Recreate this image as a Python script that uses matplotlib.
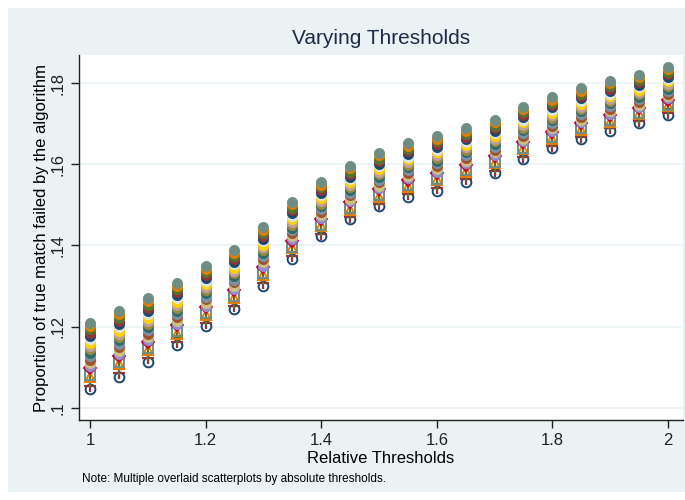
import matplotlib
matplotlib.use("Agg")
import matplotlib.pyplot as plt
from matplotlib.patches import Rectangle

plt.rcParams['font.family'] = ['Liberation Sans', 'DejaVu Sans']

# Relative thresholds (x axis)
rel_thresh = [1.00, 1.05, 1.10, 1.15, 1.20, 1.25, 1.30, 1.35, 1.40, 1.45, 1.50,
              1.55, 1.60, 1.65, 1.70, 1.75, 1.80, 1.85, 1.90, 1.95, 2.00]

# Proportion of true matches failed (x 1e-4), one list per absolute threshold,
# from the lowest series to the highest
abs01 = [1046, 1077, 1114, 1155, 1201, 1244, 1301, 1367, 1422, 1464, 1496, 1520, 1535, 1557, 1578, 1613, 1639, 1661, 1682, 1701, 1721]
abs02 = [1054, 1085, 1122, 1162, 1208, 1251, 1308, 1374, 1429, 1470, 1502, 1526, 1542, 1563, 1584, 1619, 1645, 1667, 1688, 1707, 1727]
abs03 = [1065, 1096, 1132, 1173, 1218, 1261, 1318, 1383, 1438, 1479, 1511, 1535, 1551, 1572, 1593, 1628, 1654, 1676, 1696, 1715, 1735]
abs04 = [1076, 1107, 1143, 1183, 1228, 1271, 1328, 1393, 1447, 1488, 1520, 1544, 1560, 1581, 1602, 1637, 1662, 1684, 1705, 1723, 1743]
abs05 = [1081, 1112, 1147, 1188, 1233, 1275, 1332, 1397, 1451, 1492, 1524, 1548, 1564, 1585, 1606, 1640, 1666, 1688, 1708, 1726, 1746]
abs06 = [1098, 1128, 1163, 1204, 1248, 1290, 1347, 1412, 1465, 1506, 1538, 1562, 1578, 1599, 1620, 1654, 1679, 1701, 1721, 1739, 1759]
abs07 = [1102, 1132, 1167, 1207, 1251, 1293, 1350, 1415, 1468, 1509, 1541, 1565, 1581, 1602, 1623, 1657, 1682, 1704, 1724, 1742, 1762]
abs08 = [1110, 1140, 1175, 1215, 1259, 1301, 1358, 1422, 1475, 1515, 1547, 1571, 1588, 1608, 1629, 1663, 1688, 1710, 1730, 1747, 1767]
abs09 = [1119, 1149, 1183, 1223, 1267, 1309, 1366, 1430, 1482, 1523, 1555, 1579, 1595, 1615, 1636, 1670, 1695, 1717, 1737, 1754, 1774]
abs10 = [1127, 1157, 1191, 1231, 1274, 1316, 1373, 1437, 1489, 1529, 1561, 1585, 1602, 1622, 1643, 1677, 1701, 1723, 1743, 1760, 1780]
abs11 = [1136, 1166, 1200, 1239, 1282, 1324, 1381, 1444, 1496, 1536, 1568, 1592, 1609, 1629, 1650, 1684, 1708, 1730, 1750, 1766, 1786]
abs12 = [1144, 1174, 1207, 1246, 1290, 1331, 1388, 1451, 1503, 1543, 1575, 1599, 1616, 1635, 1656, 1690, 1714, 1736, 1756, 1772, 1792]
abs13 = [1152, 1182, 1215, 1254, 1297, 1338, 1395, 1458, 1509, 1549, 1581, 1605, 1622, 1642, 1663, 1696, 1720, 1742, 1761, 1778, 1798]
abs14 = [1160, 1190, 1222, 1261, 1304, 1345, 1402, 1465, 1516, 1556, 1588, 1612, 1629, 1648, 1669, 1703, 1727, 1749, 1767, 1784, 1804]
abs15 = [1169, 1199, 1231, 1270, 1312, 1353, 1410, 1473, 1523, 1563, 1595, 1619, 1636, 1655, 1676, 1710, 1734, 1756, 1774, 1790, 1810]
abs16 = [1177, 1206, 1239, 1277, 1319, 1360, 1417, 1480, 1530, 1569, 1601, 1625, 1643, 1662, 1683, 1716, 1740, 1762, 1780, 1796, 1816]
abs17 = [1185, 1214, 1246, 1285, 1327, 1367, 1424, 1487, 1536, 1576, 1608, 1632, 1649, 1668, 1689, 1722, 1746, 1768, 1786, 1802, 1822]
abs18 = [1193, 1222, 1254, 1292, 1334, 1374, 1431, 1493, 1543, 1582, 1614, 1638, 1656, 1674, 1695, 1729, 1752, 1774, 1792, 1808, 1828]
abs19 = [1202, 1231, 1262, 1301, 1342, 1382, 1439, 1501, 1550, 1590, 1622, 1646, 1663, 1682, 1703, 1736, 1759, 1781, 1799, 1814, 1834]
abs20 = [1210, 1239, 1270, 1308, 1349, 1389, 1446, 1508, 1557, 1596, 1628, 1652, 1670, 1688, 1709, 1742, 1765, 1787, 1805, 1820, 1840]

series = [abs01, abs02, abs03, abs04, abs05, abs06, abs07, abs08, abs09, abs10,
          abs11, abs12, abs13, abs14, abs15, abs16, abs17, abs18, abs19, abs20]

# Stata s2color palette
palette = ['#1a476f', '#90353b', '#55752f', '#e37e00', '#6e8e84', '#c10534',
           '#938dd2', '#cac27e', '#a0522d', '#7b92a8', '#2d6d66', '#9c8847',
           '#bfa19c', '#ffd200', '#d9e6eb']
symbols = ['o', '+', '+', '^', 's', 'D']   # first six series, hollow / line markers

fig = plt.figure(figsize=(6.85, 5), dpi=100)
fig.patches.append(Rectangle((8 / 685, 8 / 500), 1 - 8 / 685, 484 / 500,
                             transform=fig.transFigure, facecolor='#eaf2f3',
                             edgecolor='none', zorder=-10))
ax = fig.add_axes([79 / 685, 80 / 500, 604 / 685, 365 / 500])
ax.set_facecolor('white')

for i, s in enumerate(series):
    col = palette[i % len(palette)]
    y = [v / 10000 for v in s]
    if i < len(symbols):
        m = symbols[i]
        if m == '+':
            ax.plot(rel_thresh, y, linestyle='none', marker=m, ms=8, mew=1.6,
                    color=col, zorder=3 + i)
        else:
            ax.plot(rel_thresh, y, linestyle='none', marker=m,
                    ms=7 if m != 'D' else 6, mew=1.4,
                    markerfacecolor='none', markeredgecolor=col, zorder=3 + i)
    else:
        ax.plot(rel_thresh, y, linestyle='none', marker='o', ms=7.3, mew=0.6,
                color=col, zorder=3 + i)

ax.set_xlim(0.981, 2.026)
ax.set_ylim(0.097, 0.1869)
ax.set_xticks([1, 1.2, 1.4, 1.6, 1.8, 2])
ax.set_xticklabels(['1', '1.2', '1.4', '1.6', '1.8', '2'])
ax.set_yticks([0.1, 0.12, 0.14, 0.16, 0.18])
ax.set_yticklabels(['.1', '.12', '.14', '.16', '.18'], rotation=90, va='center')
ax.grid(axis='y', color='#eaf2f3', linewidth=1.2, zorder=0)
ax.set_axisbelow(True)
ax.tick_params(direction='out', length=6, width=1, labelsize=12, colors='#222222')

for side in ['top', 'right']:
    ax.spines[side].set_visible(False)
for side in ['left', 'bottom']:
    ax.spines[side].set_color('#222222')
    ax.spines[side].set_linewidth(1)

ax.set_xlabel('Relative Thresholds', fontsize=12, labelpad=2)
ax.set_ylabel('Proportion of true match failed by the algorithm', fontsize=12, labelpad=1)
fig.text(381 / 685, 1 - 39 / 500, 'Varying Thresholds', ha='center', va='center',
         fontsize=15, color='#1e2a4a')
fig.text(82 / 685, 1 - 479 / 500,
         'Note: Multiple overlaid scatterplots by absolute thresholds.',
         ha='left', va='center', fontsize=8.5)

fig.savefig('out.png', dpi=100)
